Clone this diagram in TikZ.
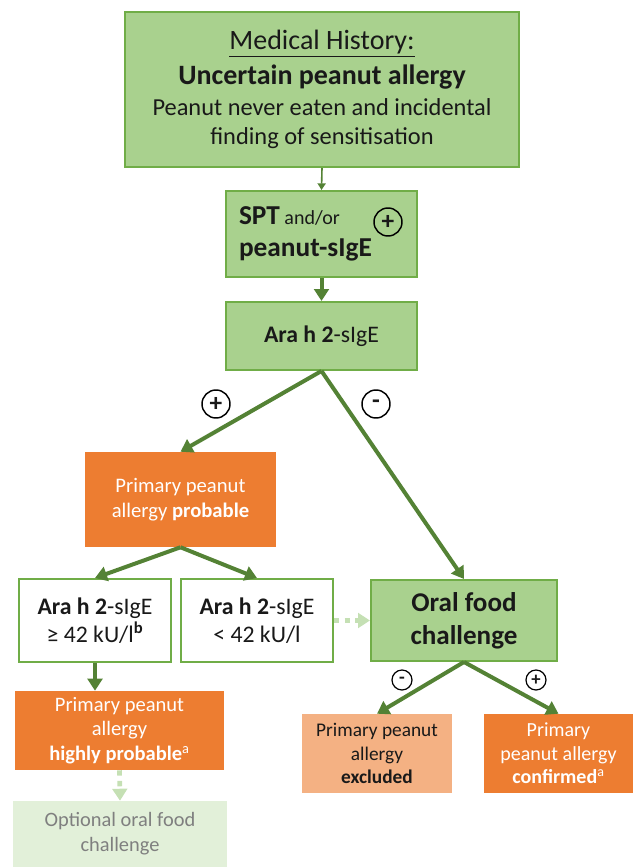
\documentclass[tikz,border=0pt]{standalone}
\usepackage{fontspec}
\setmainfont{Carlito}
\usetikzlibrary{arrows.meta, positioning}

\definecolor{greenfill}{HTML}{A9D18E}
\definecolor{greenline}{HTML}{70AD47}
\definecolor{arrowgreen}{HTML}{548235}
\definecolor{orangefill}{HTML}{ED7D31}
\definecolor{peachfill}{HTML}{F4B183}
\definecolor{palegreen}{HTML}{E2F0D9}
\definecolor{dotgreen}{HTML}{C5E0B4}
\definecolor{greytext}{HTML}{7F7F7F}

\begin{document}
\begin{tikzpicture}[
    x=0.75pt, y=-0.75pt,
    every node/.style={align=center, inner sep=0pt, text=black!90},
    size/.style 2 args={minimum width=#1*0.75pt, minimum height=#2*0.75pt},
    greenbox/.style={draw=greenline, line width=1.5pt, fill=greenfill},
    whitebox/.style={draw=greenline, line width=1.5pt, fill=white},
    orangebox/.style={fill=orangefill, text=white},
    peachbox/.style={fill=peachfill},
    optbox/.style={fill=palegreen, text=greytext},
    sign/.style={draw=black, circle, line width=1.1pt, minimum size=#1*0.75pt, font=\bfseries\fontsize{19}{19}\selectfont},
    line/.style={-{Triangle[length=9pt,width=11pt]}, draw=arrowgreen, line width=3pt},
    thinline/.style={-{Triangle[length=5pt,width=6pt]}, draw=arrowgreen, line width=1.2pt},
    dotline/.style={-{Triangle[length=9pt,width=11pt]}, draw=dotgreen, line width=3.5pt, dash pattern=on 4pt off 4pt}
]
\useasboundingbox (0,0) rectangle (633,868);

% Nodes
\node[greenbox, size={394}{155}, font=\fontsize{18.3}{22}\selectfont] (history) at (322,89.5)
  {{\fontsize{21}{22}\selectfont\underline{Medical History:}}\\[4pt]
   {\fontsize{21}{22}\selectfont\bfseries Uncertain peanut allergy}\\[1pt]
   Peanut never eaten and incidental\\finding of sensitisation};
\node[greenbox, size={191}{86}, text width=165*0.75pt, align=left, font=\fontsize{20.5}{24}\selectfont] (spt) at (321.5,234)
  {\textbf{SPT}\,{\fontsize{15}{24}\selectfont and/or}\\\textbf{peanut-sIgE}};
\node[sign=28] (sptsign) at (388,222) {+};
\node[greenbox, size={191}{68}, font=\fontsize{17.8}{21}\selectfont] (arah) at (321.5,336)
  {\textbf{Ara h 2}-sIgE};

\node[orangebox, size={191}{95}, font=\fontsize{15.5}{19}\selectfont] (probable) at (180.5,499.5)
  {Primary peanut\\allergy \textbf{probable}};
\node[sign=28] (possign) at (216,404) {+};
\node[sign=28] (negsign) at (376,404) {-};

\node[whitebox, size={152}{83}, font=\fontsize{17.8}{21}\selectfont] (high) at (95,620.5)
  {\textbf{Ara h 2}-sIgE\\≥ 42 kU/l\textsuperscript{\bfseries b}};
\node[whitebox, size={152}{83}, font=\fontsize{17.8}{21}\selectfont] (low) at (257,620.5)
  {\textbf{Ara h 2}-sIgE\\< 42 kU/l};
\node[greenbox, size={186}{81}, font=\bfseries\fontsize{20.3}{25}\selectfont] (ofc) at (464,620.5)
  {Oral food\\challenge};

\node[orangebox, size={209}{79}, font=\fontsize{15.4}{18.5}\selectfont] (highlyprob) at (119.5,730.5)
  {Primary peanut\\allergy\\\textbf{highly probable}\textsuperscript{a}};
\node[optbox, size={214}{66}, font=\fontsize{15.3}{18.8}\selectfont] (optional) at (120,834)
  {Optional oral food\\challenge};

\node[peachbox, size={150}{79}, font=\fontsize{14.5}{17.5}\selectfont] (excluded) at (377,753.5)
  {Primary peanut\\allergy\\\textbf{excluded}};
\node[orangebox, size={149}{79}, font=\fontsize{15}{17.5}\selectfont] (confirmed) at (558.5,753.5)
  {Primary\\peanut allergy\\\textbf{confirmed}\textsuperscript{a}};
\node[sign=20, line width=0.9pt, font=\bfseries\fontsize{14}{14}\selectfont] (ofcneg) at (402,680) {-};
\node[sign=20, line width=0.9pt, font=\bfseries\fontsize{14}{14}\selectfont] (ofcpos) at (536,680) {+};

% Arrows
\draw[thinline] (history.south) -- (spt.north);
\draw[line] (spt.south) -- (arah.north);
\draw[line] (arah.south) -- (probable.north);
\draw[line] (arah.south) -- (ofc.north);
\draw[line] (probable.south) -- (high.north);
\draw[line] (probable.south) -- (low.north);
\draw[line] (high.south) -- (high.south |- highlyprob.north);
\draw[dotline] (low.east) -- (ofc.west);
\draw[dotline] (highlyprob.south) -- (optional.north);
\draw[line] (ofc.south) -- (excluded.north);
\draw[line] (ofc.south) -- (confirmed.north);

\end{tikzpicture}
\end{document}
